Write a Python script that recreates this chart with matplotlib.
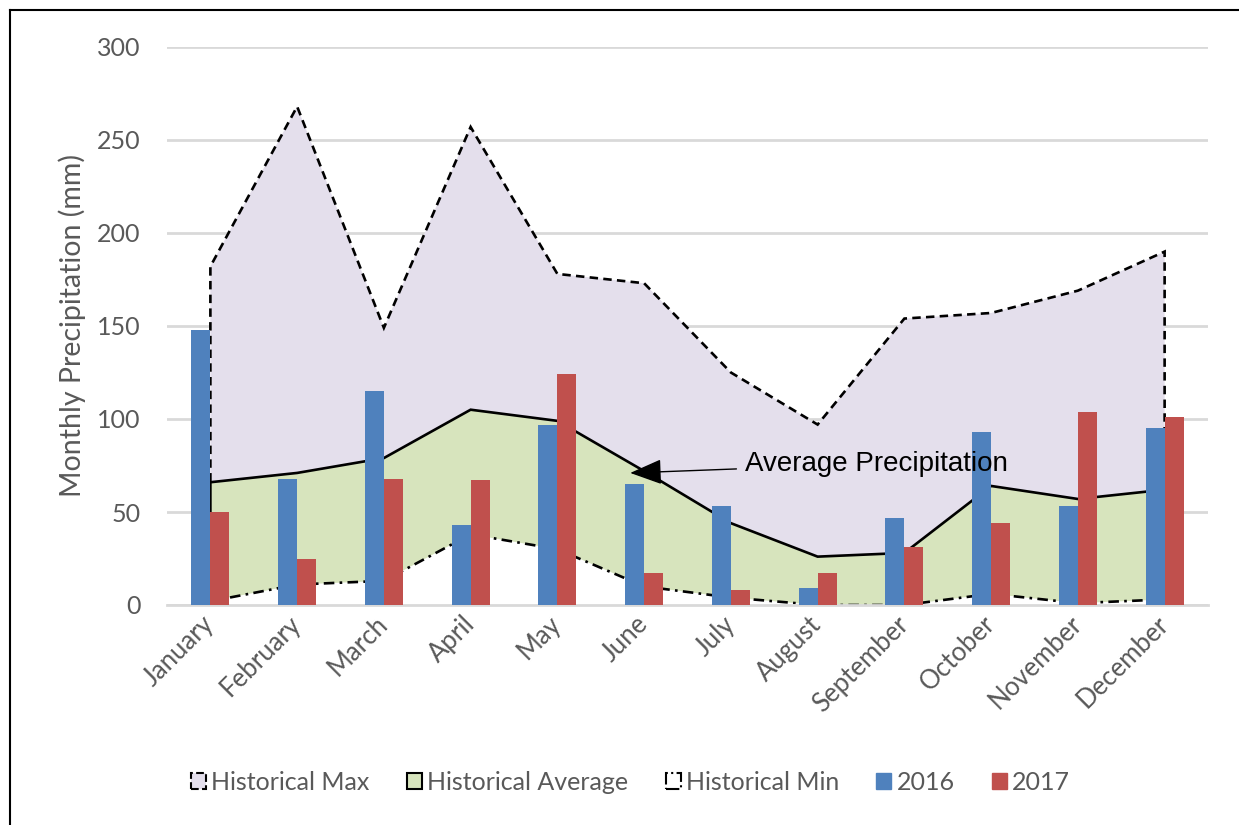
import numpy as np
import matplotlib
matplotlib.use("Agg")
import matplotlib.pyplot as plt
from matplotlib.patches import Patch
from matplotlib.lines import Line2D

months = ["January", "February", "March", "April", "May", "June", "July",
          "August", "September", "October", "November", "December"]
hist_max = [182, 268, 149, 257, 178, 173, 125, 97, 154, 157, 169, 190]
hist_avg = [66, 71, 79, 105, 99, 72, 44, 26, 28, 64, 57, 62]
hist_min = [2, 11, 13, 38, 30, 10, 4, 0, 0, 6, 1, 3]
p2016 = [148, 68, 115, 43, 97, 65, 53, 9, 47, 93, 53, 95]
p2017 = [50, 25, 68, 67, 124, 17, 8, 17, 31, 44, 104, 101]
yticks = [0, 50, 100, 150, 200, 250, 300]

C_MAX = "#E4DFEC"
C_AVG = "#D7E4BD"
C_2016 = "#4F81BD"
C_2017 = "#C0504D"
GRID = "#D9D9D9"
TXT = "#595959"
FONT = ["Lato", "DejaVu Sans"]

fig = plt.figure(figsize=(12.39, 8.25), dpi=100)
ax = fig.add_axes([167/1239, 220/825, 1041/1239, 558/825])

x = np.arange(len(months))
xe = np.r_[x[0], x, x[-1]]

def area(vals, face, ls, z):
    ye = np.r_[0, vals, 0]
    ax.fill(xe, ye, color=face, lw=0, zorder=z)
    ax.plot(xe, ye, color="black", lw=1.9, ls=ls, zorder=z + 0.05,
            solid_joinstyle="miter", dash_joinstyle="miter")

area(hist_max, C_MAX, (0, (3.2, 2.0)), 1.0)
area(hist_avg, C_AVG, "-", 1.2)
area(hist_min, "white", (0, (4.0, 2.0, 1.0, 2.0)), 1.4)

w = 0.22
ax.bar(x - w/2, p2016, width=w, color=C_2016, zorder=3)
ax.bar(x + w/2, p2017, width=w, color=C_2017, zorder=3)

ax.set_xlim(-0.5, len(months) - 0.5)
ax.set_ylim(0, 300)
ax.set_yticks(yticks)
ax.set_yticklabels([str(v) for v in yticks], fontsize=18, color=TXT, family=FONT)
ax.yaxis.grid(True, color=GRID, lw=2)
ax.set_axisbelow(True)
ax.tick_params(axis="y", length=0, pad=19)
ax.tick_params(axis="x", length=0, pad=11)
ax.set_xticks(x)
ax.set_xticklabels(months, rotation=45, ha="right", va="center",
                   rotation_mode="anchor", fontsize=18.5, color=TXT, family=FONT)
for s in ["top", "right", "left"]:
    ax.spines[s].set_visible(False)
ax.spines["bottom"].set_color(GRID)
ax.spines["bottom"].set_linewidth(2)
ax.spines["bottom"].set_zorder(2.5)

ax.set_ylabel("Monthly Precipitation (mm)", fontsize=20.5, color=TXT, family=FONT)
ax.yaxis.set_label_coords(-0.078, 0.5)

ax.annotate("Average Precipitation", xy=(4.84, 71), xytext=(6.16, 76),
            fontsize=20, family=["Liberation Sans", "DejaVu Sans"], color="black",
            va="center", ha="left", zorder=5,
            arrowprops=dict(arrowstyle="-|>,head_length=1.0,head_width=0.4",
                            color="black", lw=1.0, shrinkA=4, shrinkB=0))

handles = [
    Patch(facecolor=C_MAX, edgecolor="black", linestyle="--", lw=1.5),
    Patch(facecolor=C_AVG, edgecolor="black", lw=1.5),
    Patch(facecolor="white", edgecolor="black", linestyle="-.", lw=1.5),
    Patch(facecolor=C_2016, edgecolor=C_2016),
    Patch(facecolor=C_2017, edgecolor=C_2017),
]
labels = ["Historical Max", "Historical Average", "Historical Min", "2016", "2017"]
leg = fig.legend(handles, labels, loc="center", bbox_to_anchor=(0.509, 0.052),
                 ncol=5, frameon=False, handlelength=0.6, handleheight=0.6,
                 handletextpad=0.2, columnspacing=1.5,
                 prop={"family": FONT, "size": 18})
for t in leg.get_texts():
    t.set_color(TXT)

fig.add_artist(Line2D([10/1239, 10/1239], [0, 1 - 10/825], color="black", lw=1.5))
fig.add_artist(Line2D([10/1239, 1], [1 - 10/825, 1 - 10/825], color="black", lw=1.5))

fig.savefig("out.png", dpi=100)
